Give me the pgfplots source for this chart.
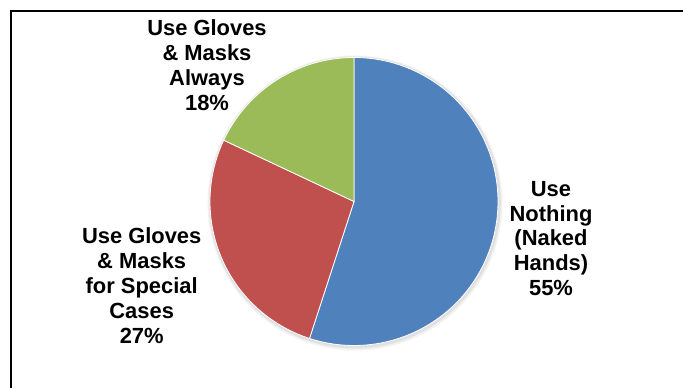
\documentclass[border=0pt]{standalone}
\usepackage{fontspec}
\setmainfont{Liberation Sans}
\usepackage{pgfplots}
\usepackage{pgfplotstable}
\pgfplotsset{compat=1.18}
\definecolor{sliceblue}{HTML}{4F81BD}
\definecolor{slicered}{HTML}{C0504D}
\definecolor{slicegreen}{HTML}{9BBB59}
\pgfplotstableread{
label value
nothing 55
special 27
always 18
}\piedata
\begin{document}
\begin{tikzpicture}
\path[use as bounding box] (0,0) rectangle (683bp,388bp);
\pgfplotstablegetelem{0}{value}\of\piedata \let\va\pgfplotsretval
\pgfplotstablegetelem{1}{value}\of\piedata \let\vb\pgfplotsretval
\pgfplotstablegetelem{2}{value}\of\piedata \let\vc\pgfplotsretval
\pgfmathsetmacro{\aA}{90}
\pgfmathsetmacro{\aB}{90-3.6*\va}
\pgfmathsetmacro{\aC}{\aB-3.6*\vb}
\pgfmathsetmacro{\aD}{\aC-3.6*\vc}
\begin{axis}[at={(0,0)}, anchor=south west, scale only axis,
  width=683bp, height=388bp, xmin=0, xmax=683, ymin=0, ymax=388,
  hide axis, clip=false]
% soft shadow
\addplot[draw=none, fill=black, fill opacity=0.05, domain=0:360, samples=150] ({355+147.5*cos(x)},{185+147.5*sin(x)}) -- cycle;
\addplot[draw=none, fill=black, fill opacity=0.07, domain=0:360, samples=150] ({354.8+146*cos(x)},{185.5+146*sin(x)}) -- cycle;
% slices
\addplot[fill=sliceblue, draw=white, line width=0.8bp, domain=\aB:\aA, samples=120] ({354+144*cos(x)},{186.5+144*sin(x)}) -- (axis cs:354,186.5) -- cycle;
\addplot[fill=slicered, draw=white, line width=0.8bp, domain=\aC:\aB, samples=80] ({354+144*cos(x)},{186.5+144*sin(x)}) -- (axis cs:354,186.5) -- cycle;
\addplot[fill=slicegreen, draw=white, line width=0.8bp, domain=\aD:\aC, samples=60] ({354+144*cos(x)},{186.5+144*sin(x)}) -- (axis cs:354,186.5) -- cycle;
% frame
\draw[line width=2bp] (axis cs:11,-5) -- (axis cs:11,377) -- (axis cs:690,377);
% labels
\begin{scope}[every node/.style={font=\fontsize{22}{25}\selectfont\bfseries, align=center, inner sep=0pt}]
\node at (axis cs:207,323) {Use Gloves\\\& Masks\\Always\\18\%};
\node at (axis cs:551,149.5) {Use\\Nothing\\(Naked\\Hands)\\55\%};
\node at (axis cs:141.7,102.6) {Use Gloves\\\& Masks\\for Special\\Cases\\27\%};
\end{scope}
\end{axis}
\end{tikzpicture}
\end{document}
